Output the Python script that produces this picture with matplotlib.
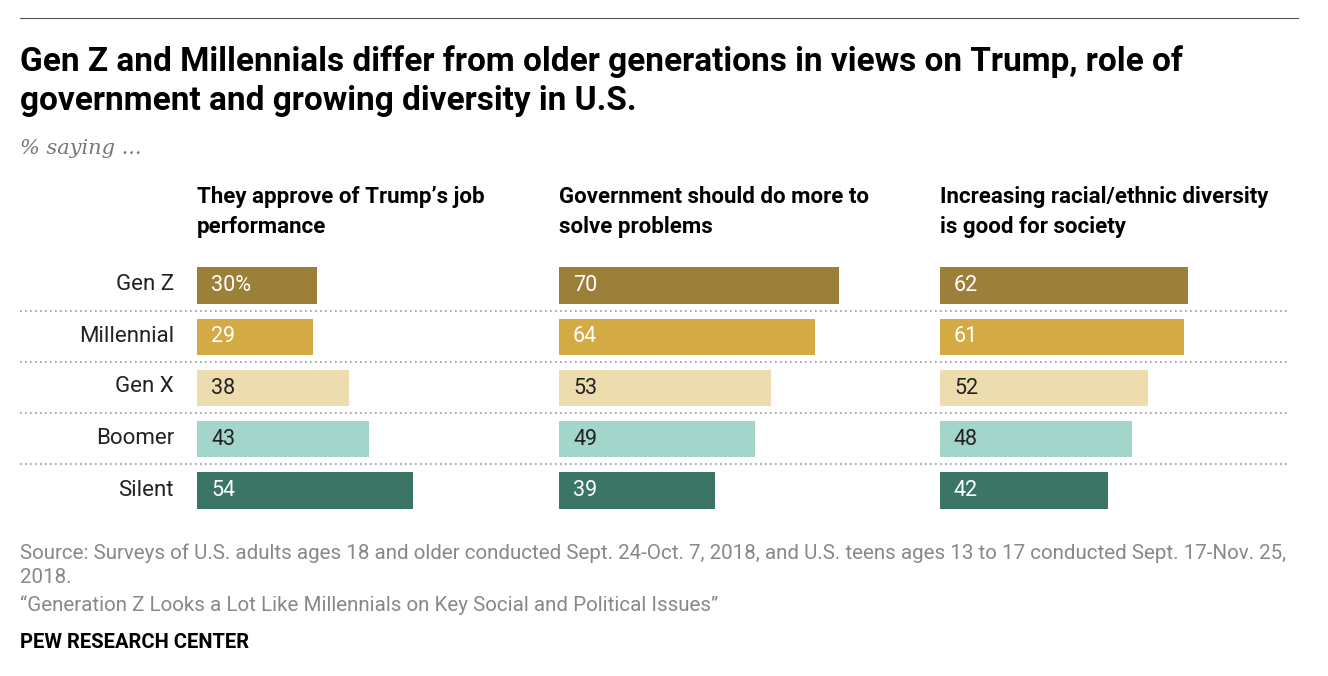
import matplotlib
matplotlib.use("Agg")
import matplotlib.pyplot as plt
from matplotlib.lines import Line2D

W, H = 1328, 676
generations = ["Gen Z", "Millennial", "Gen X", "Boomer", "Silent"]
panel_titles = ["They approve of Trump’s job\nperformance",
                "Government should do more to\nsolve problems",
                "Increasing racial/ethnic diversity\nis good for society"]
trump = [30, 29, 38, 43, 54]
government = [70, 64, 53, 49, 39]
diversity = [62, 61, 52, 48, 42]
series = [trump, government, diversity]
colors = ["#9c7f38", "#d3aa43", "#ecdcae", "#a3d5cb", "#3a7565"]
text_colors = ["white", "white", "#222222", "#222222", "white"]

fig = plt.figure(figsize=(W/100, H/100), dpi=100)
fam = ["Roboto", "DejaVu Sans"]

def fx(px): return px / W
def fy(py): return 1 - py / H

fig.add_artist(Line2D([fx(20), fx(1298)], [fy(18), fy(18)], color="#555555", lw=0.8))
fig.text(fx(20), fy(81), "Gen Z and Millennials differ from older generations in views on Trump, role of\ngovernment and growing diversity in U.S.",
         fontsize=24, fontweight="bold", family=fam, va="center", linespacing=1.25)
fig.text(fx(20), fy(149), "% saying ...", fontsize=15, style="italic", color="#777777",
         family=["DejaVu Serif"], va="center")

starts = [197, 559, 940]
top, bot = 260, 516
for i, (s, vals) in enumerate(zip(starts, series)):
    ax = fig.add_axes([fx(s), fy(bot), fx(340), (bot - top) / H])
    ax.set_xlim(0, 85)
    ax.set_ylim(4.5, -0.5)
    ax.barh(range(5), vals, height=0.71, color=colors)
    for j, v in enumerate(vals):
        lab = f"{v}%" if (i == 0 and j == 0) else str(v)
        ax.text(3.5, j, lab, color=text_colors[j], fontsize=15.5, family=fam, va="center")
    ax.axis("off")
    fig.text(fx(s), fy(212), panel_titles[i], fontsize=16, fontweight="bold",
             family=fam, va="center", linespacing=1.45)

row_y = [285, 336, 387, 438, 490]
for g, y in zip(generations, row_y):
    fig.text(fx(174), fy(y), g, fontsize=16, family=fam, ha="right", va="center", color="#222222")
for y in [311, 362, 413, 464]:
    fig.add_artist(Line2D([fx(20), fx(1290)], [fy(y), fy(y)], color="#999999", lw=1.2, ls=(0, (1, 2))))

fig.text(fx(20), fy(565), "Source: Surveys of U.S. adults ages 18 and older conducted Sept. 24-Oct. 7, 2018, and U.S. teens ages 13 to 17 conducted Sept. 17-Nov. 25,\n2018.",
         fontsize=14.8, color="#888888", family=fam, va="center", linespacing=1.3)
fig.text(fx(20), fy(605), "“Generation Z Looks a Lot Like Millennials on Key Social and Political Issues”",
         fontsize=14.8, color="#888888", family=fam, va="center")
fig.text(fx(20), fy(642), "PEW RESEARCH CENTER", fontsize=14.5, fontweight="bold", family=fam, va="center")

fig.savefig("out.png", dpi=100)
